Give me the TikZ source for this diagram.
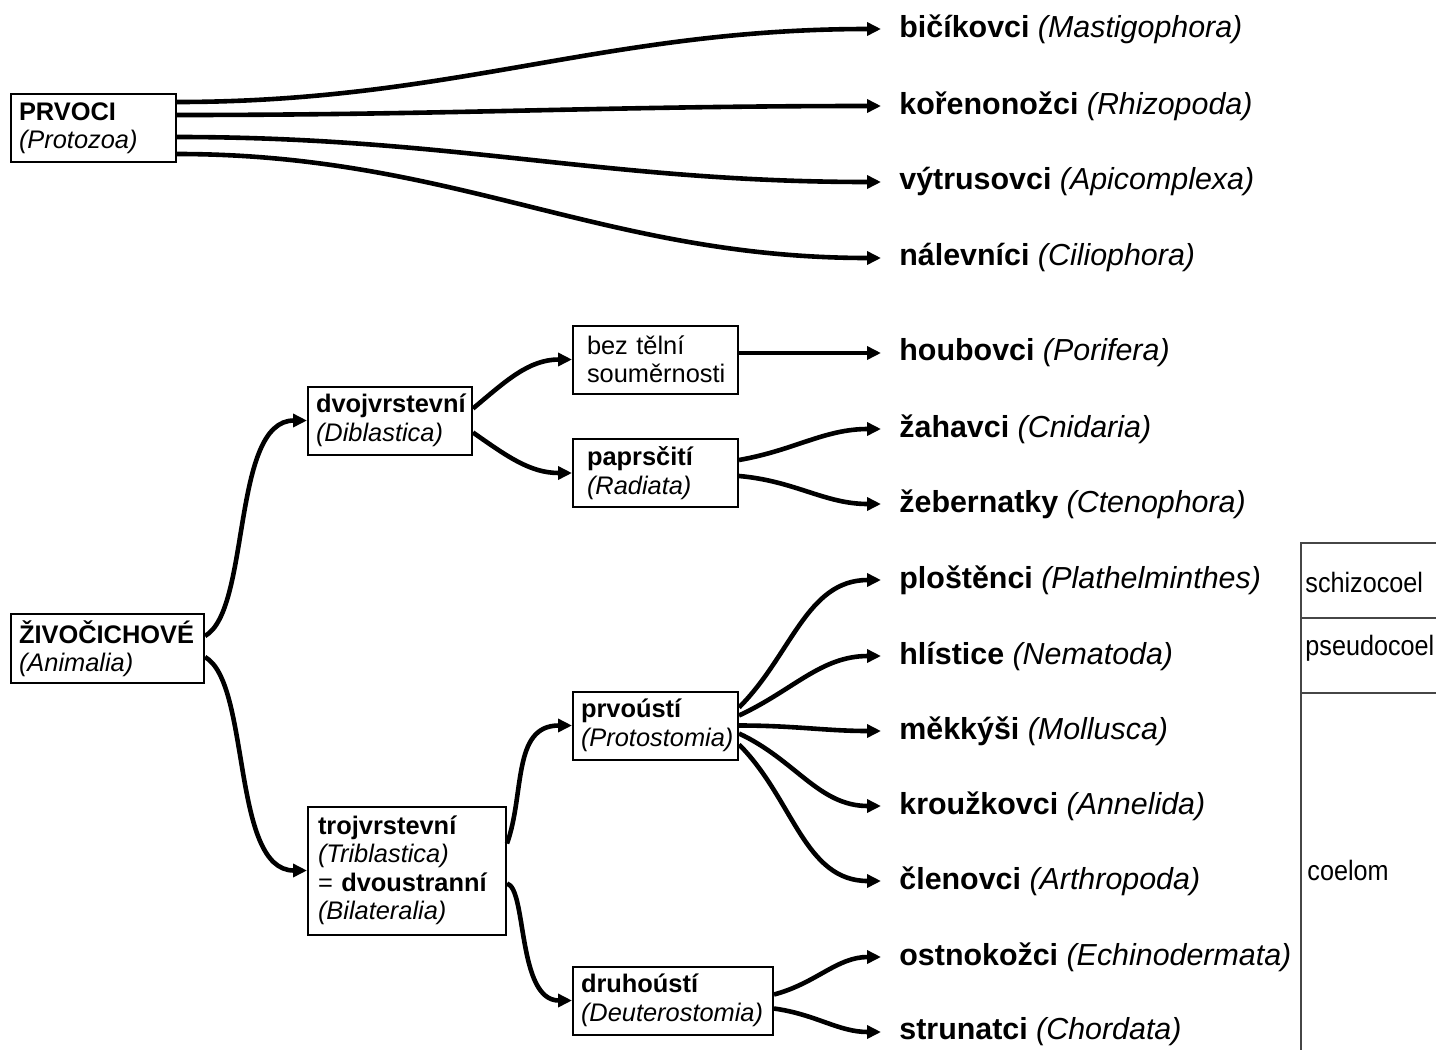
\documentclass[tikz,border=0pt]{standalone}
\usepackage{fontspec}
\setmainfont{Liberation Sans}
\newfontfamily\coelfont[FakeStretch=0.9]{Liberation Sans}
\usetikzlibrary{arrows.meta,calc}
\definecolor{linegray}{RGB}{70,70,70}
\tikzset{
  box/.style={draw, line width=1pt, inner xsep=4pt, inner ysep=3pt, text width=#1,
              align=left, minimum height=34pt, anchor=west, font=\fontsize{12.7}{14.2}\selectfont},
  taxon/.style={anchor=west, inner xsep=9pt, inner ysep=0pt, font=\fontsize{15.2}{18}\selectfont},
  branch/.style={-{Triangle[length=7pt,width=6.5pt]}, line width=2.3pt},
  coel/.style={anchor=base west, inner sep=0pt, font=\coelfont\fontsize{14}{16}\selectfont},
  coelline/.style={line width=0.6pt, linegray},
}

\begin{document}
\begin{tikzpicture}[x=0.5pt,y=-0.5pt]
  \useasboundingbox (0,0) rectangle (1436,1050);

  % boxes
  \node[box=74.5pt] (prvoci) at (10,128) {\textbf{PRVOCI}\\\textit{(Protozoa)}};
  \node[box=88.5pt] (zivo) at (10,648.5) {\textbf{ŽIVOČICHOVÉ}\\\textit{(Animalia)}};
  \node[box=74pt] (dvoj) at (307,420.5) {\textbf{dvojvrstevní}\\\textit{(Diblastica)}};
  \node[box=68.5pt, inner xsep=7pt] (bez) at (572,359.5) {bez tělní\\souměrnosti};
  \node[box=68.5pt, inner xsep=7pt] (papr) at (572,473) {\textbf{paprsčití}\\\textit{(Radiata)}};
  \node[box=89pt, inner xsep=5pt, minimum height=64pt] (troj) at (307,870.5)
    {\textbf{trojvrstevní}\\\textit{(Triblastica)}\\= \textbf{dvoustranní}\\\textit{(Bilateralia)}};
  \node[box=74.5pt] (prvo) at (572,725.5) {\textbf{prvoústí}\\\textit{(Protostomia)}};
  \node[box=92pt] (druho) at (572,1000.5) {\textbf{druhoústí}\\\textit{(Deuterostomia)}};

  % taxa
  \node[taxon] (bicik) at (881,29) {\textbf{bičíkovci} \textit{(Mastigophora)}};
  \node[taxon] (koren) at (881,106) {\textbf{kořenonožci} \textit{(Rhizopoda)}};
  \node[taxon] (vytrus) at (881,182) {\textbf{výtrusovci} \textit{(Apicomplexa)}};
  \node[taxon] (nalev) at (881,258) {\textbf{nálevníci} \textit{(Ciliophora)}};
  \node[taxon] (houb) at (881,353) {\textbf{houbovci} \textit{(Porifera)}};
  \node[taxon] (zahav) at (881,429) {\textbf{žahavci} \textit{(Cnidaria)}};
  \node[taxon] (zeber) at (881,504) {\textbf{žebernatky} \textit{(Ctenophora)}};
  \node[taxon] (plost) at (881,580) {\textbf{ploštěnci} \textit{(Plathelminthes)}};
  \node[taxon] (hlist) at (881,656) {\textbf{hlístice} \textit{(Nematoda)}};
  \node[taxon] (mekk) at (881,731) {\textbf{měkkýši} \textit{(Mollusca)}};
  \node[taxon] (krouz) at (881,806) {\textbf{kroužkovci} \textit{(Annelida)}};
  \node[taxon] (clen) at (881,881) {\textbf{členovci} \textit{(Arthropoda)}};
  \node[taxon] (ostno) at (881,957) {\textbf{ostnokožci} \textit{(Echinodermata)}};
  \node[taxon] (strun) at (881,1032) {\textbf{strunatci} \textit{(Chordata)}};

  % branches
  \foreach \dy/\t in {-26/bicik,-13/koren,9/vytrus,26/nalev}
    \draw[branch] ($(prvoci.east)+(0,\dy)$) to[out=0,in=180] (\t.west);
  \draw[branch] ($(zivo.east)+(0,-12.5)$) .. controls +(46,-26) and +(-76,0) .. (dvoj.west);
  \draw[branch] ($(zivo.east)+(0,8.5)$) .. controls +(46,26) and +(-76,0) .. (troj.west);
  \draw[branch] ($(dvoj.east)+(0,-12)$) to[out=40,in=180] (bez.west);
  \draw[branch] ($(dvoj.east)+(0,12)$) to[out=-35,in=180] (papr.west);
  \draw[branch] (bez.east |- houb.west) -- (houb.west);
  \draw[branch] ($(papr.east)+(0,-13)$) to[out=10,in=180] (zahav.west);
  \draw[branch] ($(papr.east)+(0,3)$) to[out=-5,in=180] (zeber.west);
  \draw[branch] ($(troj.east)+(0,-27)$) .. controls +(18,-50) and +(-60,0) .. (prvo.west);
  \draw[branch] ($(troj.east)+(0,13)$) .. controls +(20,5) and +(-55,0) .. (druho.west);
  \foreach \dy/\a/\t in {-18/45/plost,-10/25/hlist,0/0/mekk,8/-25/krouz,19/-45/clen}
    \draw[branch] ($(prvo.east)+(0,\dy)$) to[out=\a,in=180] (\t.west);
  \draw[branch] ($(druho.east)+(0,-6)$) to[out=15,in=180] (ostno.west);
  \draw[branch] ($(druho.east)+(0,8)$) to[out=-8,in=180] (strun.west);

  % body cavity
  \draw[coelline] (1436,543) -- (1301,543) -- (1301,1050);
  \draw[coelline] (1301,618) -- (1436,618);
  \draw[coelline] (1301,693) -- (1436,693);
  \node[coel] (schizo) at (1305,592) {schizocoel};
  \node[coel] (pseudo) at (1305,655) {pseudocoel};
  \node[coel] (coelom) at (1307,880) {coelom};
\end{tikzpicture}
\end{document}
